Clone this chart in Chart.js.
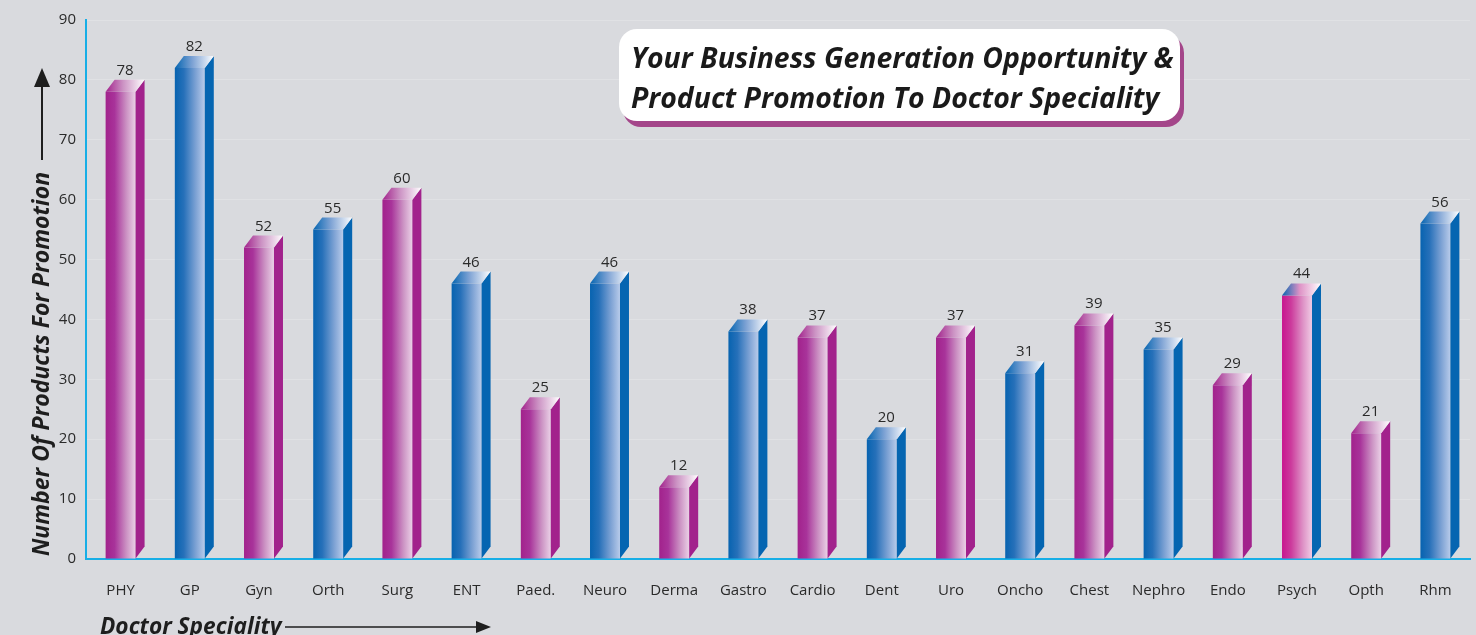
<!DOCTYPE html>
<html>
<head>
<meta charset="utf-8">
<script src="https://cdn.jsdelivr.net/npm/chart.js@4"></script>
<style>
  html, body { margin: 0; padding: 0; background: #d9dade; }
  #wrap { width: 1476px; height: 635px; position: relative; }
</style>
</head>
<body>
<div id="wrap"><canvas id="chart" width="1476" height="635"></canvas></div>
<script>
// Especialidades y numero de productos
var categories = ["PHY", "GP", "Gyn", "Orth", "Surg", "ENT", "Paed.", "Neuro", "Derma", "Gastro",
  "Cardio", "Dent", "Uro", "Oncho", "Chest", "Nephro", "Endo", "Psych", "Opth", "Rhm"];
var values = [78, 82, 52, 55, 60, 46, 25, 46, 12, 38, 37, 20, 37, 31, 39, 35, 29, 44, 21, 56];
// m = magenta, b = azul, p = rosa con lado azul
var barGroups = ["m", "b", "m", "b", "m", "b", "m", "b", "m", "b", "m", "b", "m", "b", "m", "b", "m", "p", "m", "b"];
var yTicks = [0, 10, 20, 30, 40, 50, 60, 70, 80, 90];

var palette = {
  m: { front: ["#a2228c", "#a8339a", "#cc93c4", "#ead0e6"], side: "#a2228c", top: "#a2228c" },
  b: { front: ["#0763b0", "#2670b9", "#7da2d4", "#b8cbea"], side: "#0565b1", top: "#0565b1" },
  p: { front: ["#c8168f", "#cc3a9c", "#de92c6", "#f0cbe4"], side: "#0565b1", top: "#0565b1" }
};

var DX = 9, DY = 12;

function frontGradient(context) {
  var chart = context.chart;
  var pal = palette[barGroups[context.dataIndex]];
  if (!chart.chartArea || !chart.scales.x) return pal.side;
  var xs = chart.scales.x;
  var cx = xs.getPixelForValue(context.dataIndex);
  var w = xs.width / categories.length * 0.433;
  var g = chart.ctx.createLinearGradient(cx - w / 2, 0, cx + w / 2, 0);
  g.addColorStop(0, pal.front[0]);
  g.addColorStop(0.3, pal.front[1]);
  g.addColorStop(0.7, pal.front[2]);
  g.addColorStop(1, pal.front[3]);
  return g;
}

// Fondo gris
var fondo = {
  id: "fondo",
  beforeDraw: function(chart) {
    var ctx = chart.ctx;
    ctx.save();
    ctx.fillStyle = "#d9dade";
    ctx.fillRect(0, 0, chart.width, chart.height);
    ctx.restore();
  }
};

// Caras laterales, tapa y etiquetas de valor
var barras3d = {
  id: "barras3d",
  afterDatasetsDraw: function(chart) {
    var ctx = chart.ctx;
    var meta = chart.getDatasetMeta(0);
    meta.data.forEach(function(bar, i) {
      var p = bar.getProps(["x", "y", "base", "width"], true);
      var pal = palette[barGroups[i]];
      var left = p.x - p.width / 2, right = p.x + p.width / 2;
      ctx.save();
      // lado
      ctx.fillStyle = pal.side;
      ctx.beginPath();
      ctx.moveTo(right, p.y);
      ctx.lineTo(right + DX, p.y - DY);
      ctx.lineTo(right + DX, p.base - DY);
      ctx.lineTo(right, p.base);
      ctx.closePath();
      ctx.fill();
      // tapa
      var g = ctx.createLinearGradient(left, 0, right + DX, 0);
      g.addColorStop(0, pal.top);
      g.addColorStop(0.45, pal.front[2]);
      g.addColorStop(1, "#ffffff");
      ctx.fillStyle = g;
      ctx.beginPath();
      ctx.moveTo(left, p.y);
      ctx.lineTo(left + DX, p.y - DY);
      ctx.lineTo(right + DX, p.y - DY);
      ctx.lineTo(right, p.y);
      ctx.closePath();
      ctx.fill();
      // valor
      ctx.fillStyle = "#2a2a2a";
      ctx.font = "15px 'Open Sans'";
      ctx.textAlign = "center";
      ctx.textBaseline = "alphabetic";
      ctx.fillText(String(values[i]), p.x + DX / 2, p.y - DY - 5);
      ctx.restore();
    });
  }
};

// Titulos de ejes y cuadro de titulo
var textos = {
  id: "textos",
  afterDraw: function(chart) {
    var ctx = chart.ctx;
    ctx.save();
    ctx.fillStyle = "#1e1e1e";
    ctx.strokeStyle = "#1e1e1e";
    // titulo eje Y
    ctx.save();
    ctx.translate(49, 556);
    ctx.rotate(-Math.PI / 2);
    ctx.font = "italic bold 23px 'Open Sans'";
    ctx.textAlign = "left";
    ctx.fillText("Number Of Products For Promotion", 0, 0);
    ctx.restore();
    ctx.lineWidth = 2;
    ctx.beginPath();
    ctx.moveTo(42, 160);
    ctx.lineTo(42, 86);
    ctx.stroke();
    ctx.beginPath();
    ctx.moveTo(42, 68);
    ctx.lineTo(34, 87);
    ctx.lineTo(50, 87);
    ctx.closePath();
    ctx.fill();
    // titulo eje X
    ctx.font = "italic bold 22.7px 'Open Sans'";
    ctx.textAlign = "left";
    ctx.fillText("Doctor Speciality", 100, 634);
    ctx.lineWidth = 1.5;
    ctx.beginPath();
    ctx.moveTo(285, 627);
    ctx.lineTo(478, 627);
    ctx.stroke();
    ctx.beginPath();
    ctx.moveTo(491, 627);
    ctx.lineTo(476, 621);
    ctx.lineTo(476, 633);
    ctx.closePath();
    ctx.fill();
    // cuadro de titulo
    function roundRect(x, y, w, h, r) {
      ctx.beginPath();
      ctx.moveTo(x + r, y);
      ctx.arcTo(x + w, y, x + w, y + h, r);
      ctx.arcTo(x + w, y + h, x, y + h, r);
      ctx.arcTo(x, y + h, x, y, r);
      ctx.arcTo(x, y, x + w, y, r);
      ctx.closePath();
    }
    ctx.fillStyle = "#a4468a";
    roundRect(623, 35, 561, 92, 18);
    ctx.fill();
    ctx.fillStyle = "#ffffff";
    roundRect(619, 29, 561, 92, 18);
    ctx.fill();
    ctx.fillStyle = "#1a1a1a";
    ctx.font = "italic bold 28.4px 'Open Sans'";
    ctx.textAlign = "left";
    ctx.fillText("Your Business Generation Opportunity &", 631, 68);
    ctx.fillText("Product Promotion To Doctor Speciality", 631, 108);
    ctx.restore();
  }
};

var data = {
  labels: categories,
  datasets: [{
    label: "Products",
    data: values,
    backgroundColor: frontGradient,
    borderWidth: 0,
    barPercentage: 0.433,
    categoryPercentage: 1
  }]
};

var options = {
  responsive: false,
  animation: false,
  layout: { padding: { top: 20, right: 6, left: 0, bottom: 0 } },
  plugins: {
    legend: { display: false },
    tooltip: { enabled: false }
  },
  scales: {
    x: {
      grid: { display: false, drawTicks: false },
      border: { color: "#17aee6", width: 2 },
      ticks: { color: "#2a2a2a", font: { family: "'Open Sans'", size: 15 }, padding: 23, maxRotation: 0, autoSkip: false },
      afterFit: function(scale) { scale.height = 76; }
    },
    y: {
      min: 0,
      max: 90,
      afterBuildTicks: function(scale) { scale.ticks = yTicks.map(function(v) { return { value: v }; }); },
      grid: { color: "rgba(255,255,255,0.2)", drawTicks: false },
      border: { color: "#17aee6", width: 2 },
      ticks: { color: "#2a2a2a", font: { family: "'Open Sans'", size: 15 }, padding: 10 },
      afterFit: function(scale) { scale.width = 86; }
    }
  }
};

var chart = new Chart("chart", {
  type: "bar",
  data: data,
  options: options,
  plugins: [fondo, barras3d, textos]
});
</script>
</body>
</html>
